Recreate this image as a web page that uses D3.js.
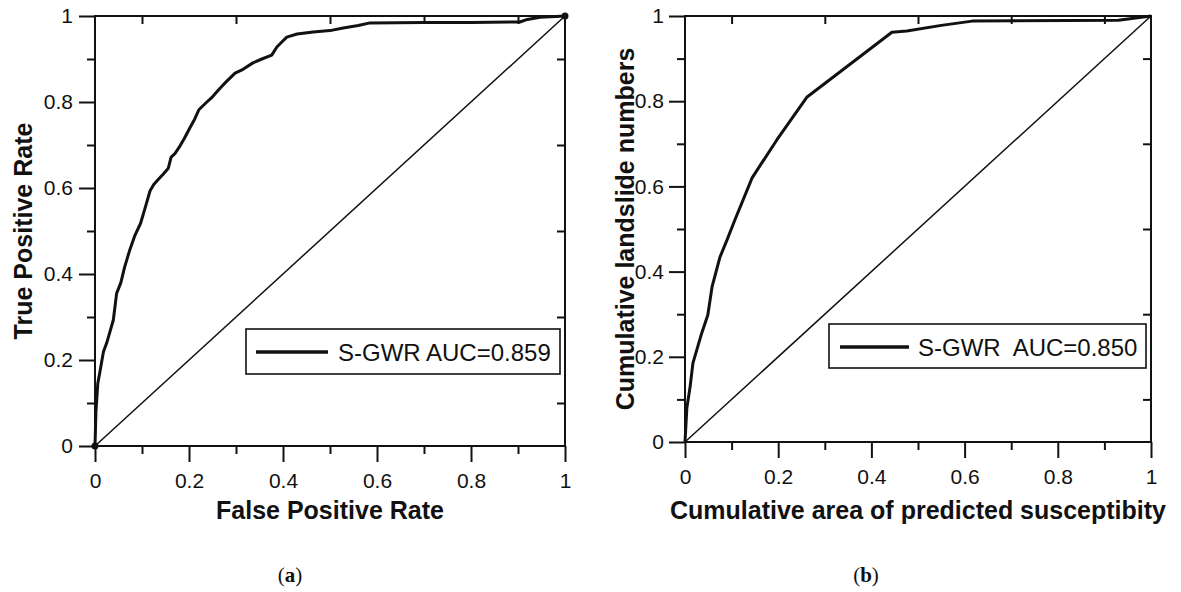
<!DOCTYPE html>
<html><head><meta charset="utf-8">
<script src="https://cdn.jsdelivr.net/npm/d3@7/dist/d3.min.js"></script>
<style>
body{margin:0;background:#fff}
svg{display:block}
text{font-family:"Liberation Sans",Arial,sans-serif;fill:#111}
</style></head>
<body>
<svg id="chart" width="1181" height="592"></svg>
<script>
// ---- data ----
const rocFPR = [0,0.002,0.006,0.01,0.018,0.025,0.039,0.046,0.055,0.063,0.074,0.085,0.097,0.107,0.117,0.125,0.134,0.145,0.156,0.162,0.170,0.181,0.19,0.202,0.212,0.221,0.238,0.25,0.266,0.28,0.298,0.315,0.336,0.355,0.376,0.387,0.398,0.408,0.43,0.464,0.5,0.528,0.56,0.585,0.7,0.8,0.904,0.92,0.947,0.98,1];
const rocTPR = [0,0.08,0.146,0.17,0.219,0.24,0.293,0.355,0.38,0.416,0.456,0.49,0.518,0.555,0.593,0.608,0.619,0.632,0.646,0.672,0.68,0.698,0.715,0.74,0.76,0.782,0.80,0.812,0.832,0.848,0.867,0.876,0.891,0.90,0.909,0.928,0.94,0.951,0.958,0.963,0.966,0.972,0.978,0.984,0.985,0.985,0.986,0.992,0.997,0.999,1];
const sucArea = [0,0.004,0.011,0.017,0.036,0.049,0.058,0.075,0.09,0.107,0.144,0.197,0.262,0.444,0.476,0.55,0.616,0.93,1];
const sucLandslide = [0,0.08,0.13,0.185,0.256,0.298,0.364,0.434,0.474,0.521,0.62,0.709,0.81,0.962,0.965,0.978,0.988,0.99,1];
const majorTicks = [0,0.2,0.4,0.6,0.8,1];
const minorTicks = [0.1,0.3,0.5,0.7,0.9];
const tickLabels = ["0","0.2","0.4","0.6","0.8","1"];
const legendA = "S-GWR AUC=0.859";
const legendB = "S-GWR  AUC=0.850";

const svg = d3.select("#chart");

function panel(cfg){
  const x = d3.scaleLinear().domain([0,1]).range([cfg.x0,cfg.x1]);
  const y = d3.scaleLinear().domain([0,1]).range([cfg.y0,cfg.y1]);
  const g = svg.append("g");
  const fmt = d => tickLabels[majorTicks.indexOf(d)];
  const style = sel => {
    sel.selectAll("path.domain").remove();
    sel.selectAll("line").attr("stroke","#111").attr("stroke-width",2);
    sel.selectAll("text").attr("font-size",21).attr("fill","#111").attr("font-family","Liberation Sans, Arial, sans-serif");
  };
  // bottom major + minor
  g.append("g").attr("transform",`translate(0,${cfg.y0})`)
    .call(d3.axisBottom(x).tickValues(majorTicks).tickFormat(fmt).tickSize(16).tickPadding(cfg.bpad)).call(style);
  g.append("g").attr("transform",`translate(0,${cfg.y0})`)
    .call(d3.axisBottom(x).tickValues(minorTicks).tickFormat("").tickSize(8)).call(style);
  // left major + minor
  g.append("g").attr("transform",`translate(${cfg.x0},0)`)
    .call(d3.axisLeft(y).tickValues(majorTicks).tickFormat(fmt).tickSize(16).tickPadding(cfg.lpad)).call(style);
  g.append("g").attr("transform",`translate(${cfg.x0},0)`)
    .call(d3.axisLeft(y).tickValues(minorTicks).tickFormat("").tickSize(8)).call(style);
  // top inward minors
  g.append("g").attr("transform",`translate(0,${cfg.y1})`)
    .call(d3.axisBottom(x).tickValues(minorTicks).tickFormat("").tickSize(8)).call(style);
  // right inward minors
  g.append("g").attr("transform",`translate(${cfg.x1},0)`)
    .call(d3.axisLeft(y).tickValues(minorTicks).tickFormat("").tickSize(8)).call(style);
  // frame
  g.append("rect").attr("x",cfg.x0).attr("y",cfg.y1).attr("width",cfg.x1-cfg.x0).attr("height",cfg.y0-cfg.y1)
    .attr("fill","none").attr("stroke","#111").attr("stroke-width",2);
  // diagonal
  g.append("line").attr("x1",x(0)).attr("y1",y(0)).attr("x2",x(1)).attr("y2",y(1))
    .attr("stroke","#111").attr("stroke-width",1.5);
  // curve
  const pts = cfg.xs.map((v,i)=>[v,cfg.ys[i]]);
  g.append("path").datum(pts)
    .attr("d",d3.line().x(d=>x(d[0])).y(d=>y(d[1])))
    .attr("fill","none").attr("stroke","#111").attr("stroke-width",3).attr("stroke-linejoin","round");
  if(cfg.dots){
    g.selectAll("circle.end").data([pts[0],pts[pts.length-1]]).enter().append("circle")
      .attr("cx",d=>x(d[0])).attr("cy",d=>y(d[1])).attr("r",3.5).attr("fill","#111");
  }
  // legend
  const L = cfg.legend;
  g.append("rect").attr("x",L.x).attr("y",L.y).attr("width",L.w).attr("height",L.h)
    .attr("fill","#fff").attr("stroke","#111").attr("stroke-width",1.6);
  g.append("line").attr("x1",L.lx0).attr("x2",L.lx1).attr("y1",L.ly).attr("y2",L.ly)
    .attr("stroke","#111").attr("stroke-width",3.5);
  g.append("text").attr("x",L.tx).attr("y",L.ty).attr("font-size",24)
    .style("white-space","pre").text(L.text);
  // axis titles
  g.append("text").attr("x",(cfg.x0+cfg.x1)/2).attr("y",cfg.xtY).attr("text-anchor","middle")
    .attr("font-size",25).attr("font-weight","bold").text(cfg.xTitle);
  g.append("text").attr("transform",`translate(${cfg.ytX},${(cfg.y0+cfg.y1)/2}) rotate(-90)`)
    .attr("text-anchor","middle").attr("font-size",25).attr("font-weight","bold").text(cfg.yTitle);
  // caption
  const cap = g.append("text").attr("x",cfg.capX).attr("y",582).attr("text-anchor","middle")
    .attr("font-size",21).style("font-family","Liberation Serif, serif");
  cap.append("tspan").text("(");
  cap.append("tspan").attr("font-weight","bold").text(cfg.capLetter);
  cap.append("tspan").text(")");
}

panel({x0:95,x1:565,y0:446,y1:16,bpad:11,lpad:6,xs:rocFPR,ys:rocTPR,dots:true,
  legend:{x:246,y:329,w:314,h:45,lx0:256,lx1:328,ly:352,tx:338,ty:361,text:legendA},
  xTitle:"False Positive Rate",yTitle:"True Positive Rate",xtY:519,ytX:32,capX:290,capLetter:"a"});

panel({x0:685,x1:1151,y0:442,y1:16,bpad:11,lpad:5,xs:sucArea,ys:sucLandslide,dots:false,
  legend:{x:829,y:324,w:317,h:44,lx0:840,lx1:909,ly:347,tx:918,ty:356,text:legendB},
  xTitle:"Cumulative area of predicted susceptibity",yTitle:"Cumulative landslide numbers",xtY:519,ytX:634,capX:866,capLetter:"b"});
</script>
</body></html>
